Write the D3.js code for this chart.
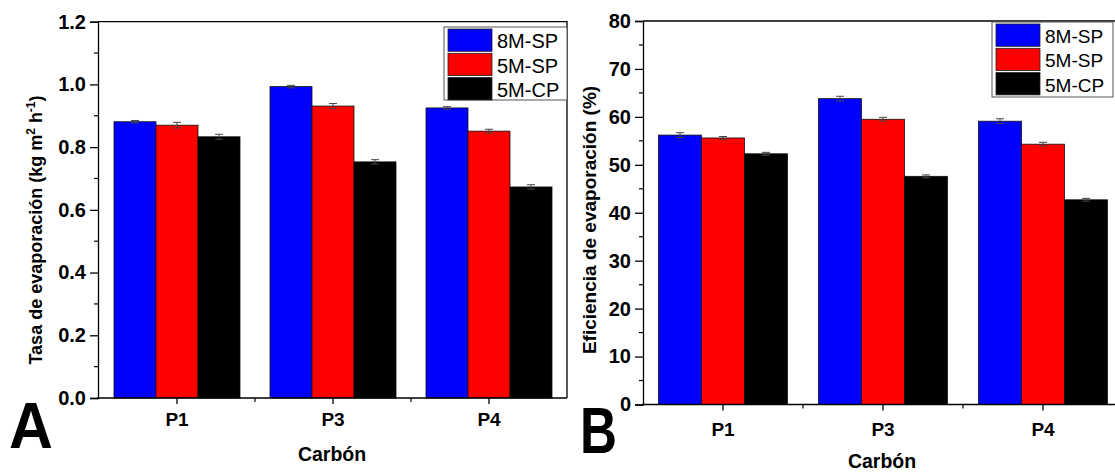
<!DOCTYPE html>
<html>
<head>
<meta charset="utf-8">
<script src="https://cdn.jsdelivr.net/npm/d3@7"></script>
<style>
  body { margin: 0; background: #fff; }
  svg, svg text { font-family: "Liberation Sans", Arial, sans-serif; }
</style>
</head>
<body>
<svg id="chart" width="1115" height="472"></svg>
<script>
// data
const categories = ["P1", "P3", "P4"];
const seriesNames = ["8M-SP", "5M-SP", "5M-CP"];
const seriesColors = ["#0000ff", "#ff0000", "#000000"];

// panel A: tasa de evaporacion (kg m-2 h-1)
const rate8MSP = [0.881, 0.993, 0.925];
const rate5MSP = [0.870, 0.931, 0.851];
const rate5MCP = [0.833, 0.753, 0.673];
const rateErr8MSP = [0.004, 0.004, 0.004];
const rateErr5MSP = [0.009, 0.008, 0.006];
const rateErr5MCP = [0.008, 0.007, 0.007];
const rateTicks = [0, 0.2, 0.4, 0.6, 0.8, 1.0, 1.2];

// panel B: eficiencia de evaporacion (%)
const eff8MSP = [56.2, 63.8, 59.1];
const eff5MSP = [55.6, 59.5, 54.3];
const eff5MCP = [52.3, 47.6, 42.7];
const effErr8MSP = [0.5, 0.5, 0.5];
const effErr5MSP = [0.3, 0.4, 0.4];
const effErr5MCP = [0.3, 0.3, 0.3];
const effTicks = [0, 10, 20, 30, 40, 50, 60, 70, 80];

const svg = d3.select("#chart");

function drawPanel(p) {
  const g = svg.append("g");

  const x = d3.scaleBand().domain(categories).range([p.x0, p.x1]);
  const y = d3.scaleLinear().domain(p.yDomain).range([p.y0, p.y1]);
  const inner = d3.scaleBand().domain(seriesNames)
    .range([0, p.groupWidth]);

  // bars
  p.values.forEach((vals, si) => {
    g.selectAll(null)
      .data(categories)
      .join("rect")
      .attr("x", (c) => x(c) + x.bandwidth() / 2 - p.groupWidth / 2 + inner(seriesNames[si]))
      .attr("y", (c, i) => y(vals[i]))
      .attr("width", inner.bandwidth())
      .attr("height", (c, i) => y(0) - y(vals[i]))
      .attr("fill", seriesColors[si])
      .attr("stroke", "#111")
      .attr("stroke-width", 0.8);

    // error bars
    categories.forEach((c, i) => {
      const cx = x(c) + x.bandwidth() / 2 - p.groupWidth / 2 + inner(seriesNames[si]) + inner.bandwidth() / 2;
      const e = p.errors[si][i];
      const eg = g.append("g").attr("stroke", "#444").attr("stroke-width", 1);
      eg.append("line").attr("x1", cx).attr("x2", cx)
        .attr("y1", y(vals[i] + e)).attr("y2", y(vals[i] - e));
      eg.append("line").attr("x1", cx - 4).attr("x2", cx + 4)
        .attr("y1", y(vals[i] + e)).attr("y2", y(vals[i] + e));
      eg.append("line").attr("x1", cx - 4).attr("x2", cx + 4)
        .attr("y1", y(vals[i] - e)).attr("y2", y(vals[i] - e));
    });
  });

  // frame (top and right)
  g.append("path")
    .attr("d", `M${p.frameLeft},${p.y1}H${p.frameRight}V${p.y0}`)
    .attr("fill", "none").attr("stroke", "#000").attr("stroke-width", 1.3);

  // y axis
  const yAxis = g.append("g")
    .attr("transform", `translate(${p.frameLeft},0)`)
    .call(d3.axisLeft(y).tickValues(p.ticks).tickSize(8).tickPadding(4)
      .tickFormat(p.fmt));
  yAxis.attr("font-family", null);
  yAxis.select(".domain").attr("stroke-width", 1.3);
  yAxis.selectAll(".tick line").attr("stroke-width", 1.3);
  yAxis.selectAll("text").attr("font-size", p.tickFs).attr("font-weight", "bold")
    .attr("fill", "#000");
  // minor y ticks
  const minor = [];
  for (let i = 0; i < p.ticks.length - 1; i++) minor.push((p.ticks[i] + p.ticks[i + 1]) / 2);
  g.selectAll(null).data(minor).join("line")
    .attr("x1", p.frameLeft - 4).attr("x2", p.frameLeft)
    .attr("y1", (d) => y(d)).attr("y2", (d) => y(d))
    .attr("stroke", "#000").attr("stroke-width", 1.2);

  // x axis
  g.append("line")
    .attr("x1", p.frameLeft - 1).attr("x2", p.frameRight)
    .attr("y1", p.y0).attr("y2", p.y0)
    .attr("stroke", "#000").attr("stroke-width", 1.3);
  const xAxis = g.append("g")
    .attr("transform", `translate(0,${p.y0})`)
    .call(d3.axisBottom(x).tickSize(6).tickPadding(6));
  xAxis.attr("font-family", null);
  xAxis.select(".domain").remove();
  xAxis.selectAll(".tick line").attr("stroke-width", 1.3);
  xAxis.selectAll("text").attr("font-size", 19).attr("font-weight", "bold")
    .attr("fill", "#000").attr("dy", p.xLabelDy);
  // minor x ticks at band boundaries
  g.selectAll(null).data(categories.slice(1)).join("line")
    .attr("x1", (c) => x(c)).attr("x2", (c) => x(c))
    .attr("y1", p.y0).attr("y2", p.y0 + 4)
    .attr("stroke", "#000").attr("stroke-width", 1.2);

  // axis titles
  g.append("text")
    .attr("x", (p.x0 + p.x1) / 2 - 1).attr("y", p.xTitleY)
    .attr("text-anchor", "middle").attr("font-size", 19.5).attr("font-weight", "bold")
    .text("Carbón");
  const yt = g.append("text")
    .attr("transform", `translate(${p.yTitleX},${p.yTitleY}) rotate(-90)`)
    .attr("text-anchor", "middle").attr("font-size", p.yTitleFs).attr("font-weight", "bold");
  p.yTitle(yt);

  // legend
  const lg = g.append("g");
  lg.append("rect")
    .attr("x", p.legend.x).attr("y", p.legend.y)
    .attr("width", p.legend.w).attr("height", p.legend.h)
    .attr("fill", "#fff").attr("stroke", "#555").attr("stroke-width", 1);
  seriesNames.forEach((s, i) => {
    lg.append("rect")
      .attr("x", p.legend.x + 4).attr("y", p.legend.y + 2 + i * p.legend.row)
      .attr("width", 44).attr("height", p.legend.row - 2)
      .attr("fill", seriesColors[i]).attr("stroke", "#222").attr("stroke-width", 0.8);
    lg.append("text")
      .attr("x", p.legend.x + 53).attr("y", p.legend.y + 2 + i * p.legend.row + p.legend.row / 2)
      .attr("dy", "0.36em").attr("font-size", p.legend.fs)
      .text(s);
  });

  // panel letter
  svg.append("text")
    .attr("transform", `translate(${p.letterX},${p.letterY}) scale(${p.letterSx},1)`)
    .attr("font-size", 64).attr("font-weight", "bold")
    .text(p.letter);
}

drawPanel({
  x0: 99, x1: 567, frameLeft: 98, frameRight: 567,
  y0: 398, y1: 21.7, yDomain: [0, 1.2],
  groupWidth: 126,
  values: [rate8MSP, rate5MSP, rate5MCP],
  errors: [rateErr8MSP, rateErr5MSP, rateErr5MCP],
  ticks: rateTicks, fmt: d3.format(".1f"), tickFs: 20,
  xLabelDy: "0.85em", xTitleY: 461,
  yTitleX: 42, yTitleY: 230, yTitleFs: 18,
  yTitle: (t) => {
    t.append("tspan").text("Tasa de evaporación (kg m");
    t.append("tspan").attr("dy", -7).attr("font-size", 12).text("2");
    t.append("tspan").attr("dy", 7).text(" h");
    t.append("tspan").attr("dy", -7).attr("font-size", 12).text("-1");
    t.append("tspan").attr("dy", 7).text(")");
  },
  legend: { x: 444, y: 27, w: 123, h: 73, row: 24.3, fs: 20 },
  letter: "A", letterX: 9, letterY: 448, letterSx: 0.95
});

drawPanel({
  x0: 643, x1: 1123, frameLeft: 643, frameRight: 1123,
  y0: 404.5, y1: 21, yDomain: [0, 80],
  groupWidth: 129,
  values: [eff8MSP, eff5MSP, eff5MCP],
  errors: [effErr8MSP, effErr5MSP, effErr5MCP],
  ticks: effTicks, fmt: d3.format("d"), tickFs: 20,
  xLabelDy: "1.0em", xTitleY: 468,
  yTitleX: 596, yTitleY: 220, yTitleFs: 19,
  yTitle: (t) => { t.text("Eficiencia de evaporación (%)"); },
  legend: { x: 992, y: 22, w: 121, h: 75, row: 24.3, fs: 19 },
  letter: "B", letterX: 580, letterY: 453, letterSx: 0.8
});
</script>
</body>
</html>
